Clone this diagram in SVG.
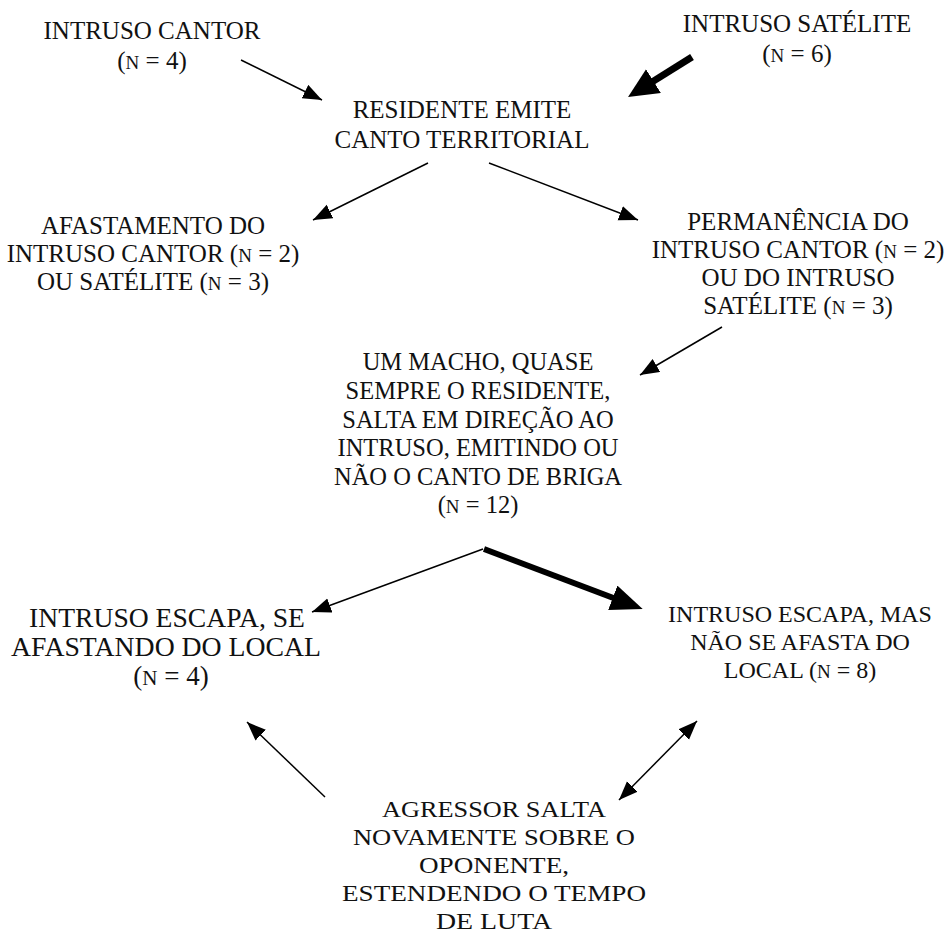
<svg xmlns="http://www.w3.org/2000/svg" width="945" height="935" viewBox="0 0 945 935">
<style>
text{font-family:"Liberation Serif","Times New Roman",serif;fill:#111;text-anchor:middle}
.t{font-size:25px}
.m{font-size:24.5px}
.r{font-size:24px}
.b{font-size:24px}
.l{font-size:27px}
.sc{font-size:19px}
.ln{stroke:#000;fill:none}
.thin{stroke-width:1.5}
</style>
<defs>
<marker id="ah" markerUnits="userSpaceOnUse" markerWidth="22" markerHeight="18" refX="19" refY="7.5" orient="auto-start-reverse"><path d="M0,0 L19,7.5 L0,15 z" fill="#000"/></marker>
<marker id="ahT" markerUnits="userSpaceOnUse" markerWidth="32" markerHeight="30" refX="10" refY="14" orient="auto"><path d="M0,0 L30,14 L0,28 z" fill="#000"/></marker>
<marker id="ahT2" markerUnits="userSpaceOnUse" markerWidth="34" markerHeight="28" refX="12" refY="13" orient="auto"><path d="M0,0 L32,13 L0,26 z" fill="#000"/></marker>
</defs>
<rect width="945" height="935" fill="#fff"/>
<g id="connectors">
<line class="ln thin" x1="241" y1="60" x2="322" y2="100" marker-end="url(#ah)"/>
<line class="ln" stroke-width="7" x1="692" y1="57" x2="645" y2="86.4" marker-end="url(#ahT)"/>
<line class="ln thin" x1="428" y1="163" x2="313" y2="220" marker-end="url(#ah)"/>
<line class="ln thin" x1="489" y1="163" x2="638" y2="220" marker-end="url(#ah)"/>
<line class="ln thin" x1="722" y1="327" x2="640" y2="375" marker-end="url(#ah)"/>
<line class="ln thin" x1="483" y1="549" x2="312" y2="612" marker-end="url(#ah)"/>
<line class="ln" stroke-width="6" x1="484" y1="549" x2="624" y2="602" marker-end="url(#ahT2)"/>
<line class="ln thin" x1="325" y1="797" x2="247" y2="722" marker-end="url(#ah)"/>
<line class="ln thin" x1="619" y1="800" x2="697" y2="721" marker-start="url(#ah)" marker-end="url(#ah)"/>
</g>
<g id="intruso-cantor">
<text class="t" x="152" y="39">INTRUSO CANTOR</text>
<text class="t" x="152" y="69">(<tspan class="sc">N</tspan> = 4)</text>
</g>
<g id="intruso-satelite">
<text class="t" x="797" y="32">INTRUSO SATÉLITE</text>
<text class="t" x="797" y="62">(<tspan class="sc">N</tspan> = 6)</text>
</g>
<g id="residente">
<text class="t" x="462" y="118">RESIDENTE EMITE</text>
<text class="t" x="462" y="148">CANTO TERRITORIAL</text>
</g>
<g id="afastamento">
<text class="t" x="153" y="234">AFASTAMENTO DO</text>
<text class="t" x="153" y="262">INTRUSO CANTOR (<tspan class="sc">N</tspan> = 2)</text>
<text class="t" x="153" y="290">OU SATÉLITE (<tspan class="sc">N</tspan> = 3)</text>
</g>
<g id="permanencia">
<text class="t" x="798" y="230">PERMANÊNCIA DO</text>
<text class="t" x="798" y="258">INTRUSO CANTOR (<tspan class="sc">N</tspan> = 2)</text>
<text class="t" x="798" y="286">OU DO INTRUSO</text>
<text class="t" x="798" y="314">SATÉLITE (<tspan class="sc">N</tspan> = 3)</text>
</g>
<g id="macho-salta">
<text class="m" x="478" y="370">UM MACHO, QUASE</text>
<text class="m" x="478" y="399">SEMPRE O RESIDENTE,</text>
<text class="m" x="478" y="428">SALTA EM DIREÇÃO AO</text>
<text class="m" x="478" y="456">INTRUSO, EMITINDO OU</text>
<text class="m" x="478" y="485">NÃO O CANTO DE BRIGA</text>
<text class="m" x="478" y="513">(<tspan class="sc">N</tspan> = 12)</text>
</g>
<g id="escapa-afasta">
<text class="l" x="167" y="627" textLength="276" lengthAdjust="spacingAndGlyphs">INTRUSO ESCAPA, SE</text>
<text class="l" x="166" y="656" textLength="310" lengthAdjust="spacingAndGlyphs">AFASTANDO DO LOCAL</text>
<text class="l" x="171" y="685">(<tspan font-size="21px">N</tspan> = 4)</text>
</g>
<g id="escapa-permanece">
<text class="r" x="800" y="622">INTRUSO ESCAPA, MAS</text>
<text class="r" x="800" y="650">NÃO SE AFASTA DO</text>
<text class="r" x="800" y="678">LOCAL (<tspan class="sc">N</tspan> = 8)</text>
</g>
<g id="agressor">
<text class="b" x="494" y="817" textLength="224" lengthAdjust="spacingAndGlyphs">AGRESSOR SALTA</text>
<text class="b" x="494" y="845" textLength="282" lengthAdjust="spacingAndGlyphs">NOVAMENTE SOBRE O</text>
<text class="b" x="494" y="873" textLength="150" lengthAdjust="spacingAndGlyphs">OPONENTE,</text>
<text class="b" x="494" y="901" textLength="304" lengthAdjust="spacingAndGlyphs">ESTENDENDO O TEMPO</text>
<text class="b" x="494" y="929" textLength="116" lengthAdjust="spacingAndGlyphs">DE LUTA</text>
</g>
</svg>
